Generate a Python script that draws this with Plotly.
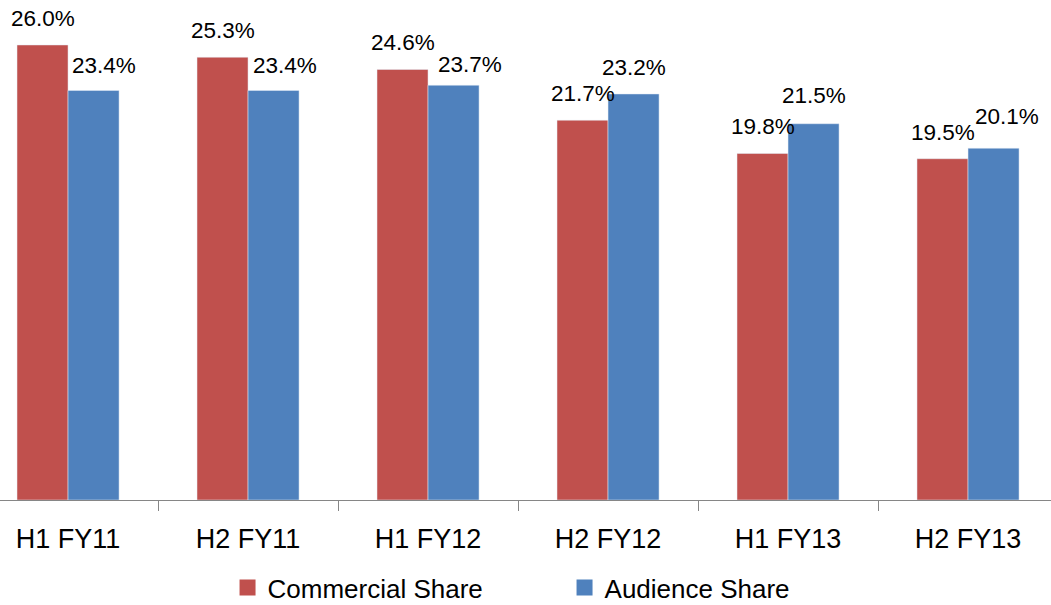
import plotly.graph_objects as go

categories = ["H1 FY11", "H2 FY11", "H1 FY12", "H2 FY12", "H1 FY13", "H2 FY13"]
commercial_share = [26.0, 25.3, 24.6, 21.7, 19.8, 19.5]
audience_share = [23.4, 23.4, 23.7, 23.2, 21.5, 20.1]

RED = "#C0504D"
BLUE = "#4F81BD"
FONT = "Liberation Sans Narrow, Arial Narrow, Liberation Sans, Arial, sans-serif"

# label nudges (px) relative to bar tops, mimicking the reference placement
blue_dx = [10, 11, 16, 0, 0, 13]
blue_dy = [14, 14, 10, 16, 18, 21]

fig = go.Figure()
fig.add_trace(go.Bar(x=categories, y=commercial_share, name="Commercial Share",
                     marker=dict(color=RED), showlegend=False))
fig.add_trace(go.Bar(x=categories, y=audience_share, name="Audience Share",
                     marker=dict(color=BLUE), showlegend=False))
# legend-only entries with larger square swatches
fig.add_trace(go.Scatter(x=[None], y=[None], mode="markers", name="Commercial Share",
                         marker=dict(symbol="square", size=16, color=RED)))
fig.add_trace(go.Scatter(x=[None], y=[None], mode="markers", name="Audience Share",
                         marker=dict(symbol="square", size=16, color=BLUE)))

annotations = []
for i, (c, v) in enumerate(zip(categories, commercial_share)):
    annotations.append(dict(x=c, y=v, text=f"{v:.1f}%", showarrow=False,
                            xshift=-25.5, yshift=12, yanchor="bottom",
                            font=dict(family=FONT, size=22.5, color="#000000")))
for i, (c, v) in enumerate(zip(categories, audience_share)):
    annotations.append(dict(x=c, y=v, text=f"{v:.1f}%", showarrow=False,
                            xshift=25.5 + blue_dx[i], yshift=blue_dy[i] - 4, yanchor="bottom",
                            font=dict(family=FONT, size=22.5, color="#000000")))

fig.update_layout(
    width=1051, height=605,
    margin=dict(l=0, r=0, t=0, b=105, autoexpand=False),
    paper_bgcolor="white", plot_bgcolor="white",
    barmode="group", bargap=0.433, bargroupgap=0,
    font=dict(family=FONT, size=27, color="#000000"),
    annotations=annotations,
    showlegend=True,
    legend=dict(orientation="h", x=0.2165, xanchor="left", y=-0.128, yanchor="top",
                entrywidth=292, font=dict(family=FONT, size=26, color="#000000"),
                bgcolor="rgba(0,0,0,0)", itemsizing="trace"),
    xaxis=dict(type="category", range=[-0.378, 5.461], tickson="boundaries",
               ticks="outside", ticklen=10, tickcolor="#868686", tickwidth=1,
               showline=True, linecolor="#868686", linewidth=1, showgrid=False,
               zeroline=False, automargin=False, ticklabelstandoff=15,
               tickfont=dict(family=FONT, size=27, color="#000000")),
    yaxis=dict(range=[0, 28.57], visible=False, showgrid=False, zeroline=False),
)

fig.write_html("out.html")
